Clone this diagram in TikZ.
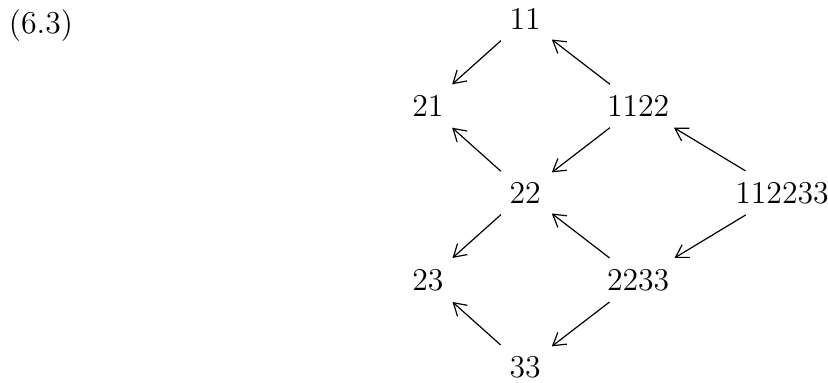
\documentclass[tikz,border=0pt]{standalone}
\usepackage{amsmath}
\usepackage{tikz}
\usetikzlibrary{arrows.meta}
\tikzset{>={Straight Barb[length=4.6pt,width=5.6pt]}}

\begin{document}
\begin{tikzpicture}[
   wd/.style={inner sep=4pt,font=\large},
   edg/.style={->,line width=0.45pt}]
  \useasboundingbox (0,0) rectangle (10.99,-5.08);
  \node[wd] (eq) at (0.544,-0.345) {(6.3)};
  \node[wd] (n11) at (6.97,-0.252) {11};
  \node[wd] (n21) at (5.68,-1.407) {21};
  \node[wd] (n1122) at (8.47,-1.407) {1122};
  \node[wd] (n22) at (6.97,-2.561) {22};
  \node[wd] (n112233) at (10.38,-2.561) {112233};
  \node[wd] (n23) at (5.68,-3.716) {23};
  \node[wd] (n2233) at (8.47,-3.716) {2233};
  \node[wd] (n33) at (6.97,-4.870) {33};
  \draw[edg] (n11) -- (n21);
  \draw[edg] (n1122) -- (n11);
  \draw[edg] (n22) -- (n21);
  \draw[edg] (n1122) -- (n22);
  \draw[edg] (n112233) -- (n1122);
  \draw[edg] (n112233) -- (n2233);
  \draw[edg] (n22) -- (n23);
  \draw[edg] (n2233) -- (n22);
  \draw[edg] (n33) -- (n23);
  \draw[edg] (n2233) -- (n33);
\end{tikzpicture}
\end{document}
